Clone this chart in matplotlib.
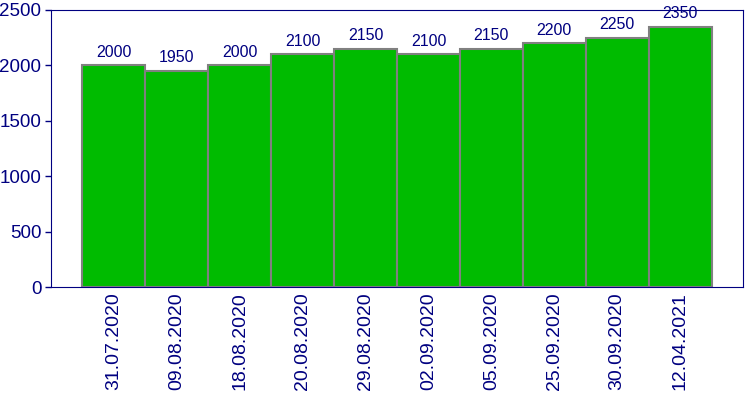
import matplotlib.pyplot as plt

dates = ['31.07.2020', '09.08.2020', '18.08.2020', '20.08.2020', '29.08.2020',
         '02.09.2020', '05.09.2020', '25.09.2020', '30.09.2020', '12.04.2021']
values = [2000, 1950, 2000, 2100, 2150, 2100, 2150, 2200, 2250, 2350]

navy = '#000080'
plt.rcParams['font.family'] = ['Liberation Sans', 'DejaVu Sans']

fig = plt.figure(figsize=(7.5, 4), dpi=100)
ax = fig.add_axes([51/750, 1 - 287/400, 692/750, 277/400])

x = range(len(values))
bars = ax.bar(x, values, width=1.0, color='#00bb00', edgecolor='#808080', linewidth=1.5)

# value above each bar
for b, v in zip(bars, values):
    ax.annotate(str(v), (b.get_x() + b.get_width() / 2, v), xytext=(0, 4),
                textcoords='offset points', ha='center', va='bottom',
                fontsize=11.5, color=navy, annotation_clip=False)

ax.set_xlim(-1, 10)
ax.set_ylim(0, 2500)
ax.set_yticks([0, 500, 1000, 1500, 2000, 2500])
ax.set_xticks(list(x))
ax.set_xticklabels(dates, rotation=90)
ax.tick_params(axis='y', colors=navy, labelsize=13.5, length=4, width=1, pad=3)
ax.tick_params(axis='x', colors=navy, labelsize=14, length=0, pad=4)
for spine in ax.spines.values():
    spine.set_color(navy)

plt.savefig('out.png', dpi=100)
